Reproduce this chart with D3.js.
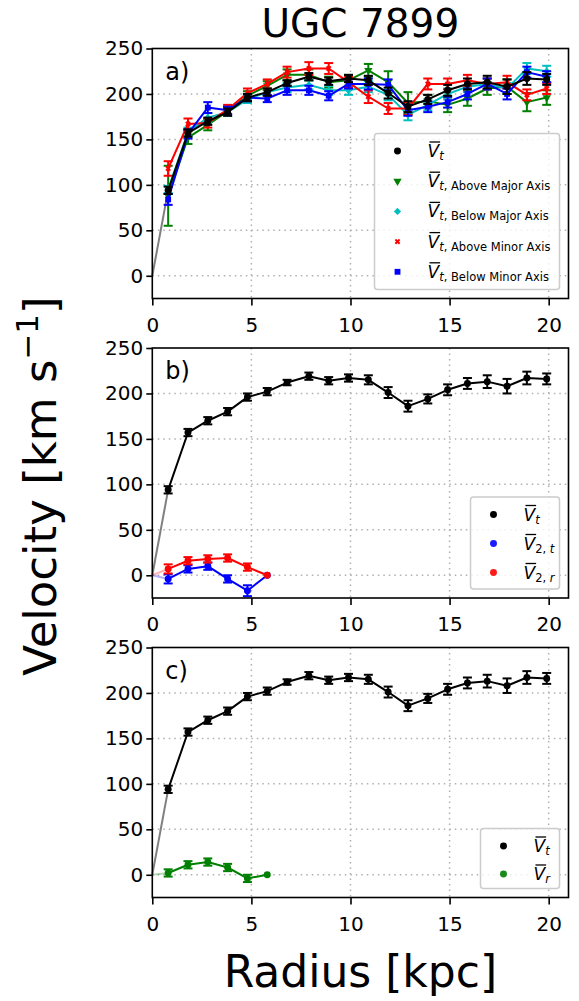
<!DOCTYPE html>
<html>
<head>
<meta charset="utf-8">
<script src="https://cdn.jsdelivr.net/npm/d3@7/dist/d3.min.js"></script>
<style>
  body { margin: 0; background: #fff; }
  text { font-family: "DejaVu Sans", sans-serif; }
</style>
</head>
<body>
<svg id="chart" width="579" height="1001"></svg>
<script>
// ---- data ----
const radius = [0.8, 1.8, 2.8, 3.8, 4.8, 5.8, 6.8, 7.9, 8.9, 9.9, 10.9, 11.9, 12.9, 13.9, 14.9, 15.9, 16.9, 17.9, 18.9, 19.9];

const vt    = [94, 157, 170, 180, 196, 202, 212, 219, 214, 217, 215, 201, 186, 194, 204, 211, 213, 208, 217, 216];
const vtErr = [4, 4, 4, 4, 4, 4, 3, 4, 4, 4, 5, 6, 6, 5, 6, 6, 7, 8, 7, 6];

const vtAboveMajor    = [88, 152, 166, 181, 198, 209, 221, 221, 213, 215, 226, 213, 190, 192, 188, 195, 206, 208, 191, 196];
const vtAboveMajorErr = [33, 7, 6, 5, 5, 5, 6, 6, 6, 6, 7, 12, 12, 7, 8, 8, 7, 8, 10, 8];
const vtBelowMajor    = [95, 158, 174, 180, 194, 202, 207, 210, 204, 204, 208, 199, 177, 188, 200, 208, 211, 206, 228, 225];
const vtBelowMajorErr = [4, 5, 5, 4, 4, 4, 5, 5, 5, 5, 6, 6, 6, 6, 6, 6, 6, 6, 6, 6];
const vtAboveMinor    = [118, 167, 168, 183, 201, 211, 224, 228, 228, 213, 197, 184, 184, 211, 211, 215, 211, 213, 199, 206];
const vtAboveMinorErr = [8, 6, 5, 5, 5, 5, 6, 7, 6, 6, 7, 6, 7, 6, 6, 6, 6, 7, 6, 6];
const vtBelowMinor    = [84, 156, 185, 182, 196, 195, 204, 204, 198, 211, 211, 210, 182, 186, 191, 200, 211, 200, 224, 219];
const vtBelowMinorErr = [6, 5, 6, 4, 4, 4, 5, 5, 5, 5, 6, 6, 6, 6, 6, 6, 6, 6, 6, 6];

const radiusInner = [0.8, 1.8, 2.8, 3.8, 4.8, 5.8];
const v2t    = [-4, 7, 10, -4, -17, 0];
const v2tErr = [5, 4, 4, 4, 6, 0];
const v2r    = [7, 16, 18, 19, 9, 0];
const v2rErr = [5, 4, 4, 4, 4, 0];
const vr     = [2, 11, 14, 8, -4, 0];
const vrErr  = [4, 4, 4, 4, 4, 0];

const xTicks = [0, 5, 10, 15, 20];
const yTicks = [0, 50, 100, 150, 200, 250];
const panelLabels = ["a)", "b)", "c)"];

// ---- layout ----
const svg = d3.select("#chart");
const left = 152.3, right = 568.5;
const panelTops = [48.5, 348, 647.5], panelH = 250;

const x = d3.scaleLinear().domain([0, 21]).range([left, right]);

const markers = {
  circle:   { type: d3.symbolCircle, size: 38, rot: 0 },
  triDown:  { type: d3.symbolTriangle, size: 30, rot: 180 },
  diamond:  { type: d3.symbolSquare, size: 26, rot: 45 },
  xmark:    { type: d3.symbolCross, size: 20, rot: 45 },
  square:   { type: d3.symbolSquare, size: 34, rot: 0 }
};

function drawSeries(g, y, rs, vs, es, color, mk) {
  const pts = rs.map((r, i) => ({ r: r, v: vs[i], e: es[i] }));
  g.append("path")
    .datum(pts)
    .attr("d", d3.line().x(d => x(d.r)).y(d => y(d.v)))
    .attr("fill", "none")
    .attr("stroke", color)
    .attr("stroke-width", 2)
    .attr("stroke-linejoin", "round");

  const bars = pts.filter(d => d.e > 0);
  const eb = g.append("g").attr("stroke", color).attr("stroke-width", 2);
  eb.selectAll("line.v").data(bars).join("line").attr("class", "v")
    .attr("x1", d => x(d.r)).attr("x2", d => x(d.r))
    .attr("y1", d => y(d.v - d.e)).attr("y2", d => y(d.v + d.e));
  [-1, 1].forEach(s => {
    eb.selectAll("line.c" + (s + 1)).data(bars).join("line").attr("class", "c" + (s + 1))
      .attr("x1", d => x(d.r) - 4.5).attr("x2", d => x(d.r) + 4.5)
      .attr("y1", d => y(d.v + s * d.e)).attr("y2", d => y(d.v + s * d.e));
  });

  const m = markers[mk];
  g.append("g").selectAll("path").data(pts).join("path")
    .attr("transform", d => `translate(${x(d.r)},${y(d.v)}) rotate(${m.rot})`)
    .attr("d", d3.symbol(m.type, m.size))
    .attr("fill", color);
}

function originLine(g, y, r0, v0, color, opacity) {
  g.append("line")
    .attr("x1", x(0)).attr("y1", y(0))
    .attr("x2", x(r0)).attr("y2", y(v0))
    .attr("stroke", color).attr("stroke-width", 2)
    .attr("stroke-opacity", opacity);
}

function drawLegend(g, y, entries, w, h, spacing) {
  const bx = right - 9 - w, by = y.range()[0] - 9 - h;
  const lg = g.append("g");
  lg.append("rect")
    .attr("x", bx).attr("y", by).attr("width", w).attr("height", h)
    .attr("rx", 3).attr("fill", "#fff").attr("fill-opacity", 0.8)
    .attr("stroke", "#cccccc").attr("stroke-width", 1.5);
  entries.forEach((en, i) => {
    const cy = by + 17.5 + i * spacing;
    const m = markers[en.marker];
    lg.append("path")
      .attr("transform", `translate(${bx + 23},${cy}) rotate(${m.rot})`)
      .attr("d", d3.symbol(m.type, m.size))
      .attr("fill", en.color);
    const tx = bx + 53;
    const vText = lg.append("text")
      .attr("x", tx).attr("y", cy + 6)
      .attr("font-size", 17).attr("font-style", "italic")
      .text("V");
    const vw = vText.node().getComputedTextLength();
    lg.append("line")
      .attr("x1", tx + 2).attr("x2", tx + vw + 1)
      .attr("y1", cy - 9).attr("y2", cy - 9)
      .attr("stroke", "#000").attr("stroke-width", 1.3);
    const sub = lg.append("text")
      .attr("x", tx + vw).attr("y", cy + 9)
      .attr("font-size", 11.5);
    en.sub.forEach(p => {
      sub.append("tspan").attr("font-style", p.it ? "italic" : "normal").text(p.t);
    });
  });
}

function drawPanel(k, seriesFn, legendSpec) {
  const top = panelTops[k], bottom = top + panelH;
  const y = d3.scaleLinear().domain([-25, 250]).range([bottom, top]);
  const g = svg.append("g");

  // dotted grid
  g.append("g").selectAll("line").data(xTicks.filter(t => t > 0)).join("line")
    .attr("x1", d => x(d)).attr("x2", d => x(d)).attr("y1", top).attr("y2", bottom)
    .attr("stroke", "#b0b0b0").attr("stroke-width", 1.5).attr("stroke-dasharray", "1.5,4");
  g.append("g").selectAll("line").data(yTicks.filter(t => t < 250)).join("line")
    .attr("x1", left).attr("x2", right).attr("y1", d => y(d)).attr("y2", d => y(d))
    .attr("stroke", "#b0b0b0").attr("stroke-width", 1.5).attr("stroke-dasharray", "1.5,4");

  seriesFn(g, y);

  // frame + axes
  g.append("rect").attr("x", left).attr("y", top).attr("width", right - left).attr("height", panelH)
    .attr("fill", "none").attr("stroke", "#000").attr("stroke-width", 1.6);

  const ax = g.append("g").attr("transform", `translate(0,${bottom})`)
    .call(d3.axisBottom(x).tickValues(xTicks).tickSize(7).tickPadding(12));
  const ay = g.append("g").attr("transform", `translate(${left},0)`)
    .call(d3.axisLeft(y).tickValues(yTicks).tickSize(6).tickPadding(3));
  [ax, ay].forEach(a => {
    a.select(".domain").remove();
    a.selectAll(".tick line").attr("stroke-width", 1.6);
    a.selectAll("text").attr("font-size", 20).attr("font-family", "DejaVu Sans").attr("fill", "#000");
  });

  g.append("text").attr("x", left + 13).attr("y", top + 31)
    .attr("font-size", 24).text(panelLabels[k]);

  drawLegend(g, y, legendSpec.entries, legendSpec.w, legendSpec.h, legendSpec.spacing);
}

// panel a
drawPanel(0, (g, y) => {
  originLine(g, y, radius[0], vt[0], "#808080", 1);
  drawSeries(g, y, radius, vtAboveMajor, vtAboveMajorErr, "#008000", "triDown");
  drawSeries(g, y, radius, vtBelowMajor, vtBelowMajorErr, "#00bfbf", "diamond");
  drawSeries(g, y, radius, vtAboveMinor, vtAboveMinorErr, "#ff0000", "xmark");
  drawSeries(g, y, radius, vtBelowMinor, vtBelowMinorErr, "#0000ff", "square");
  drawSeries(g, y, radius, vt, vtErr, "#000000", "circle");
}, {
  w: 185, h: 156, spacing: 30.2,
  entries: [
    { marker: "circle", color: "#000", sub: [{ t: "t", it: true }] },
    { marker: "triDown", color: "#008000", sub: [{ t: "t", it: true }, { t: ", Above Major Axis" }] },
    { marker: "diamond", color: "#00bfbf", sub: [{ t: "t", it: true }, { t: ", Below Major Axis" }] },
    { marker: "xmark", color: "#ff0000", sub: [{ t: "t", it: true }, { t: ", Above Minor Axis" }] },
    { marker: "square", color: "#0000ff", sub: [{ t: "t", it: true }, { t: ", Below Minor Axis" }] }
  ]
});

// panel b
drawPanel(1, (g, y) => {
  originLine(g, y, radius[0], vt[0], "#808080", 1);
  originLine(g, y, radiusInner[0], v2t[0], "#0000ff", 0.3);
  originLine(g, y, radiusInner[0], v2r[0], "#ff0000", 0.3);
  drawSeries(g, y, radius, vt, vtErr, "#000000", "circle");
  drawSeries(g, y, radiusInner, v2t, v2tErr, "#0000ff", "circle");
  drawSeries(g, y, radiusInner, v2r, v2rErr, "#ff0000", "circle");
}, {
  w: 89, h: 92, spacing: 29,
  entries: [
    { marker: "circle", color: "#000", sub: [{ t: "t", it: true }] },
    { marker: "circle", color: "#1a1aff", sub: [{ t: "2, " }, { t: "t", it: true }] },
    { marker: "circle", color: "#ff1a1a", sub: [{ t: "2, " }, { t: "r", it: true }] }
  ]
});

// panel c
drawPanel(2, (g, y) => {
  originLine(g, y, radius[0], vt[0], "#808080", 1);
  originLine(g, y, radiusInner[0], vr[0], "#008000", 0.3);
  drawSeries(g, y, radius, vt, vtErr, "#000000", "circle");
  drawSeries(g, y, radiusInner, vr, vrErr, "#008000", "circle");
}, {
  w: 79, h: 60, spacing: 28,
  entries: [
    { marker: "circle", color: "#000", sub: [{ t: "t", it: true }] },
    { marker: "circle", color: "#1a8a1a", sub: [{ t: "r", it: true }] }
  ]
});

// titles
svg.append("text").attr("x", (left + right) / 2).attr("y", 37)
  .attr("text-anchor", "middle").attr("font-size", 39).text("UGC 7899");

svg.append("text").attr("x", (left + right) / 2).attr("y", 987)
  .attr("text-anchor", "middle").attr("font-size", 44).text("Radius [kpc]");

const yl = svg.append("text")
  .attr("transform", "translate(56,486) rotate(-90)")
  .attr("text-anchor", "middle").attr("font-size", 45);
yl.append("tspan").text("Velocity [km s");
yl.append("tspan").attr("font-size", 31).attr("dy", -18).text("\u22121");
yl.append("tspan").attr("dy", 18).text("]");
</script>
</body>
</html>
